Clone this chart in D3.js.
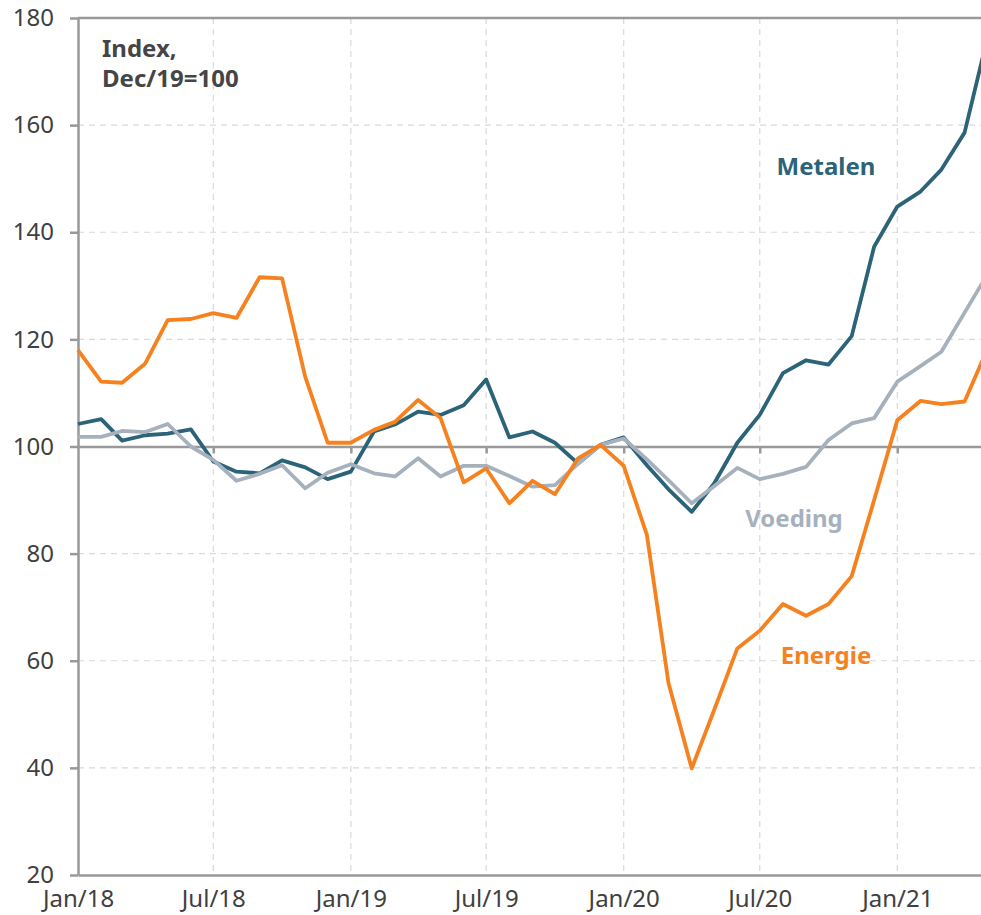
<!DOCTYPE html>
<html>
<head>
<meta charset="utf-8">
<script src="https://cdn.jsdelivr.net/npm/d3@7"></script>
<style>
  body { margin: 0; background: #fff; }
  svg { display: block; font-family: "Noto Sans", "Open Sans", sans-serif; }
</style>
</head>
<body>
<svg id="chart"></svg>
<script>
// monthly index values, Dec/19 = 100
const months = d3.timeMonth.range(new Date(2018, 0, 1), new Date(2021, 4, 2));
const energie = [118.0,112.1,111.9,115.5,123.6,123.8,124.9,124.0,131.6,131.4,
  113.0,100.7,100.7,103.1,104.6,108.7,105.3,93.3,95.9,89.4,
  93.6,91.1,97.8,100.3,96.4,83.5,55.8,39.9,50.8,62.3,
  65.6,70.6,68.4,70.6,75.8,90.0,104.9,108.5,107.9,108.4,118.0];
const metalen = [104.2,105.1,101.1,102.1,102.4,103.2,97.2,95.3,95.0,97.4,
  96.1,93.9,95.3,102.8,104.1,106.5,105.9,107.7,112.5,101.7,
  102.8,100.7,96.8,100.3,101.7,96.5,92.0,87.8,93.1,100.7,
  105.9,113.7,116.1,115.3,120.6,137.3,144.8,147.6,151.7,158.6,176.0];
const voeding = [101.8,101.8,102.9,102.7,104.2,100.0,97.5,93.6,94.9,96.5,
  92.2,95.1,96.7,95.0,94.4,97.8,94.4,96.4,96.4,94.5,
  92.5,92.8,96.8,100.3,101.5,97.6,93.7,89.4,92.6,96.0,
  93.9,94.9,96.2,101.2,104.3,105.3,112.1,115.0,117.7,125.0,132.0];
const yTicks = [20, 40, 60, 80, 100, 120, 140, 160, 180];
const xTicks = [new Date(2018,0,1), new Date(2018,6,1), new Date(2019,0,1), new Date(2019,6,1),
  new Date(2020,0,1), new Date(2020,6,1), new Date(2021,0,1)];
const fmtMonth = d3.timeFormat("%b/%y");

const series = [
  {name: "Metalen", values: metalen, color: "#2b6478", lx: 826, ly: 175},
  {name: "Voeding", values: voeding, color: "#a6b1bd", lx: 794, ly: 527},
  {name: "Energie", values: energie, color: "#f5821f", lx: 826, ly: 664}
];

class LineChart {
  constructor(config) {
    this.config = {
      parent: config.parent,
      width: config.width || 981,
      height: config.height || 915,
      margin: config.margin || {top: 18, right: 0, bottom: 40, left: 78}
    };
    this.init();
  }
  init() {
    let self = this;
    self.svg = d3.select(self.config.parent)
      .attr('width', self.config.width)
      .attr('height', self.config.height);

    self.chart = self.svg.append('g')
      .attr('transform', `translate(${self.config.margin.left}, ${self.config.margin.top})`);

    // plot runs a little past the right edge of the picture (May/21 is cut off)
    self.inner_width = 909;
    self.inner_height = 857;

    self.xscale = d3.scaleTime()
      .domain([months[0], months[months.length - 1]])
      .range([0, self.inner_width]);

    self.yscale = d3.scaleLinear()
      .domain([20, 180])
      .range([self.inner_height, 0]);
  }
  render() {
    let self = this;
    const x = self.xscale, y = self.yscale;

    // grid
    self.chart.append('g').selectAll('line')
      .data(yTicks.filter(d => d !== 20 && d !== 180 && d !== 100))
      .join('line')
      .attr('x1', 0).attr('x2', self.inner_width)
      .attr('y1', d => y(d)).attr('y2', d => y(d))
      .attr('stroke', '#d9d9d9').attr('stroke-width', 1.2)
      .attr('stroke-dasharray', '6,5');

    self.chart.append('g').selectAll('line')
      .data(xTicks.slice(1))
      .join('line')
      .attr('x1', d => x(d)).attr('x2', d => x(d))
      .attr('y1', 0).attr('y2', self.inner_height)
      .attr('stroke', '#d9d9d9').attr('stroke-width', 1.2)
      .attr('stroke-dasharray', '6,5');

    // y axis
    const yaxis = d3.axisLeft(y).tickValues(yTicks).tickSize(8).tickSizeOuter(0).tickPadding(16);
    const yg = self.chart.append('g').call(yaxis);
    yg.select('.domain').attr('stroke', '#999').attr('stroke-width', 2.5);
    yg.selectAll('.tick line').attr('stroke', '#999').attr('stroke-width', 2.5);
    yg.selectAll('.tick text').attr('font-size', 24).attr('fill', '#404040')
      .attr('font-family', '"Noto Sans", sans-serif');

    // top border and bottom axis
    self.chart.append('line')
      .attr('x1', 0).attr('x2', self.inner_width)
      .attr('y1', 0).attr('y2', 0)
      .attr('stroke', '#999').attr('stroke-width', 2.5);

    const xaxis = d3.axisBottom(x).tickValues(xTicks).tickSize(0).tickSizeOuter(0)
      .tickPadding(15).tickFormat(d => fmtMonth(d));
    const xg = self.chart.append('g')
      .attr('transform', `translate(0, ${self.inner_height})`)
      .call(xaxis);
    xg.select('.domain').attr('stroke', '#999').attr('stroke-width', 2.5);
    xg.selectAll('.tick text').attr('font-size', 24).attr('fill', '#404040')
      .attr('font-family', '"Noto Sans", sans-serif');

    // base line at 100
    const bg = self.chart.append('g')
      .attr('transform', `translate(0, ${y(100)})`)
      .call(d3.axisBottom(x).tickValues(xTicks.slice(1)).tickSize(7).tickSizeOuter(0).tickFormat(''));
    bg.select('.domain').attr('stroke', '#999').attr('stroke-width', 2.5);
    bg.selectAll('.tick line').attr('stroke', '#999').attr('stroke-width', 2.5);

    // lines
    const line = d3.line()
      .x((d, i) => x(months[i]))
      .y(d => y(d));

    self.chart.selectAll('path.series')
      .data(series)
      .join('path')
      .attr('class', 'series')
      .attr('d', d => line(d.values))
      .attr('fill', 'none')
      .attr('stroke', d => d.color)
      .attr('stroke-width', 3.8)
      .attr('stroke-linejoin', 'round');

    // series labels
    self.svg.selectAll('text.lbl')
      .data(series)
      .join('text')
      .attr('class', 'lbl')
      .attr('x', d => d.lx).attr('y', d => d.ly)
      .attr('text-anchor', 'middle')
      .attr('font-size', 24).attr('font-weight', 'bold')
      .attr('fill', d => d.color)
      .text(d => d.name);

    // unit note
    const note = self.svg.append('text')
      .attr('x', 102).attr('y', 57)
      .attr('font-size', 24).attr('font-weight', 'bold').attr('fill', '#454545');
    note.append('tspan').attr('x', 102).text('Index,');
    note.append('tspan').attr('x', 102).attr('dy', 30).text('Dec/19=100');
  }
}

const chart = new LineChart({parent: '#chart'});
chart.render();
</script>
</body>
</html>
